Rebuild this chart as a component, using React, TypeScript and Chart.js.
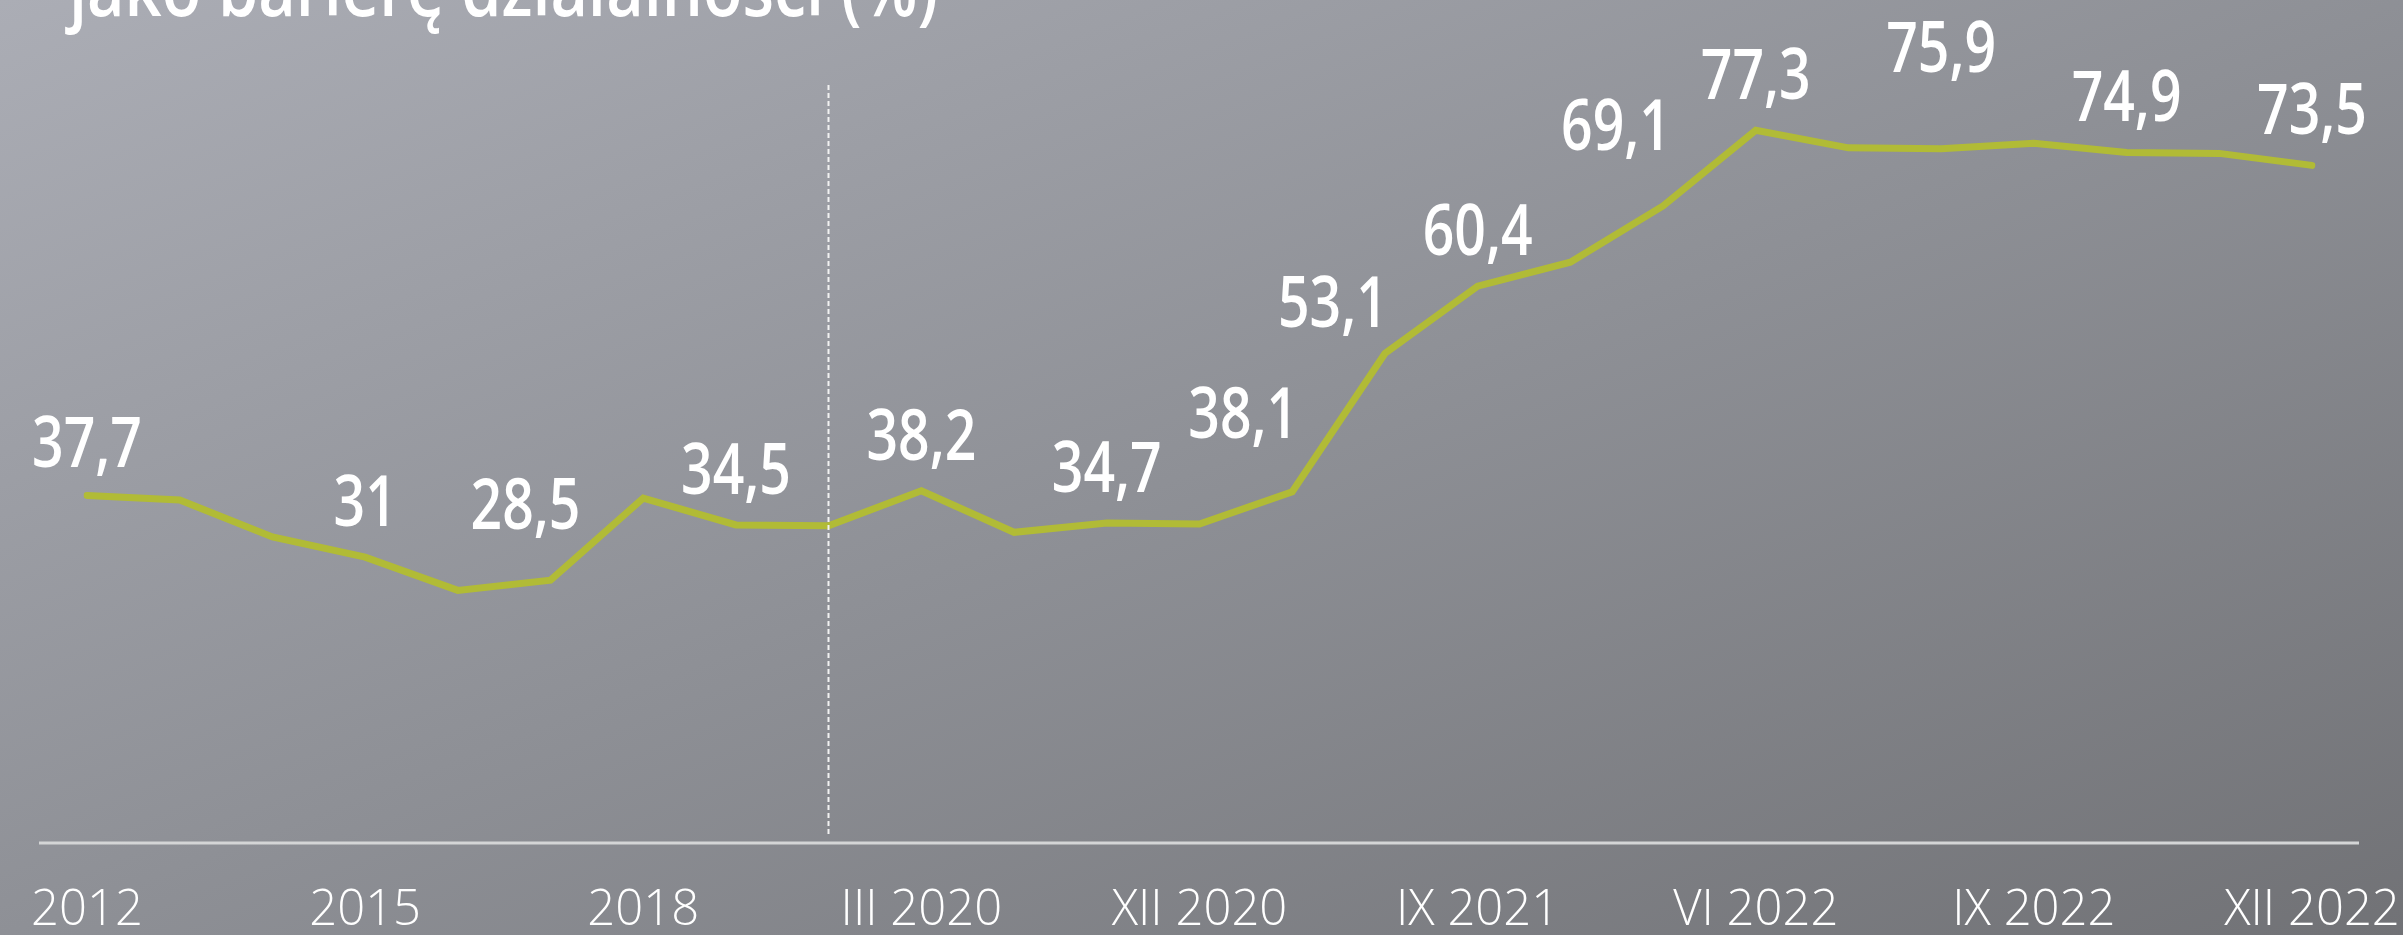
import React, { useEffect, useRef } from 'react';
import { Chart, registerables } from 'chart.js';

Chart.register(...registerables);

const TITLE = 'jako barierę działalności (%)';

const categories = [
  '2012', '2013', '2014', '2015', '2016', '2017', '2018', '2019', 'XII 2019',
  'III 2020', 'VI 2020', 'IX 2020', 'XII 2020',
  'III 2021', 'VI 2021', 'IX 2021', 'XII 2021',
  'III 2022', 'VI 2022', 'VII 2022', 'VIII 2022', 'IX 2022', 'X 2022', 'XI 2022', 'XII 2022',
];

const values = [
  37.7, 37.2, 33.2, 31.0, 27.4, 28.5, 37.4, 34.5, 34.4,
  38.2, 33.7, 34.7, 34.6,
  38.1, 53.1, 60.4, 63.0,
  69.1, 77.3, 75.4, 75.3, 75.9, 74.9, 74.8, 73.5,
];

const pointLabels = [
  '37,7', '', '', '31', '', '28,5', '', '34,5', '',
  '38,2', '', '34,7', '',
  '38,1', '53,1', '60,4', '',
  '69,1', '77,3', '', '75,9', '', '74,9', '', '73,5',
];

const tickLabels = ['2012', '2015', '2018', 'III 2020', 'XII 2020', 'IX 2021', 'VI 2022', 'IX 2022', 'XII 2022'];

const dividerCategory = 'XII 2019';

// label placement tweaks: [dx, dy above point]
const LABEL_SHIFT: Record<number, [number, number]> = {
  0: [0, 28],
  5: [-25, 51],
  13: [-49, 54],
  14: [-52, 26],
  17: [-47, 56],
  20: [0, 77],
};
const DEFAULT_SHIFT: [number, number] = [0, 31];

const LINE_COLOR = '#b1bb36';
const FONT = "'Open Sans', 'Noto Sans', sans-serif";

const decorPlugin = {
  id: 'decor',
  afterDatasetsDraw(chart: any) {
    const { ctx, chartArea, scales } = chart;
    const xs = scales.x;
    const ys = scales.y;
    ctx.save();

    // baseline
    ctx.strokeStyle = '#d4d5d6';
    ctx.lineWidth = 3;
    ctx.beginPath();
    ctx.moveTo(chartArea.left - 48, chartArea.bottom);
    ctx.lineTo(chartArea.right + 47, chartArea.bottom);
    ctx.stroke();

    // dashed divider
    const di = categories.indexOf(dividerCategory);
    const dx = Math.round(xs.getPixelForValue(di)) - 0.5;
    ctx.strokeStyle = '#f2f2f2';
    ctx.lineWidth = 2;
    ctx.setLineDash([5, 3]);
    ctx.beginPath();
    ctx.moveTo(dx, chartArea.top - 2);
    ctx.lineTo(dx, chartArea.bottom - 8);
    ctx.stroke();
    ctx.setLineDash([]);

    // point labels
    ctx.fillStyle = '#ffffff';
    ctx.font = `600 70px ${FONT}`;
    ctx.textAlign = 'center';
    ctx.textBaseline = 'alphabetic';
    pointLabels.forEach((txt, i) => {
      if (!txt) return;
      const [ox, oy] = LABEL_SHIFT[i] || DEFAULT_SHIFT;
      const px = xs.getPixelForValue(i) + ox;
      const py = ys.getPixelForValue(values[i]) - oy;
      ctx.save();
      ctx.translate(px, py);
      ctx.scale(0.79, 1);
      ctx.fillText(txt, 0, 0);
      ctx.restore();
    });

    // title (partially cut at top)
    ctx.font = `600 78px ${FONT}`;
    ctx.textAlign = 'left';
    ctx.save();
    ctx.translate(69, 16);
    ctx.scale(0.83, 1);
    ctx.fillText(TITLE, 0, 0);
    ctx.restore();

    ctx.restore();
  },
};

export default function App() {
  const canvasRef = useRef<HTMLCanvasElement | null>(null);

  useEffect(() => {
    if (!canvasRef.current) return;
    const chart = new Chart(canvasRef.current, {
      type: 'line',
      data: {
        labels: categories,
        datasets: [
          {
            data: values,
            borderColor: LINE_COLOR,
            borderWidth: 7,
            pointRadius: 0,
            pointHoverRadius: 0,
            tension: 0,
            fill: false,
            borderCapStyle: 'round',
            borderJoinStyle: 'miter',
          },
        ],
      },
      options: {
        animation: false,
        responsive: true,
        maintainAspectRatio: false,
        events: [],
        layout: { padding: { top: 87, left: 87, right: 91, bottom: 0 } },
        plugins: {
          legend: { display: false },
          tooltip: { enabled: false },
          title: { display: false },
        },
        scales: {
          x: {
            type: 'category',
            offset: false,
            grid: { display: false, drawTicks: false },
            border: { display: false },
            afterFit: (scale: any) => {
              scale.height = 92;
              scale.paddingLeft = 0;
              scale.paddingRight = 0;
            },
            ticks: {
              autoSkip: false,
              maxRotation: 0,
              minRotation: 0,
              padding: 44,
              color: '#ffffff',
              font: { family: FONT, size: 49, weight: '300', lineHeight: 1 },
              callback: (_v: any, i: number) => (tickLabels.includes(categories[i]) ? categories[i] : ''),
            },
          },
          y: {
            display: false,
            min: 0,
            max: 82,
          },
        },
      },
      plugins: [decorPlugin],
    });
    return () => chart.destroy();
  }, []);

  return (
    <div
      style={{
        position: 'fixed',
        left: 0,
        top: 0,
        width: 2403,
        height: 935,
        overflow: 'hidden',
        background: 'linear-gradient(to bottom right, #abadb5 0%, #8e9096 50%, #717276 100%)',
      }}
    >
      <canvas ref={canvasRef} />
    </div>
  );
}
